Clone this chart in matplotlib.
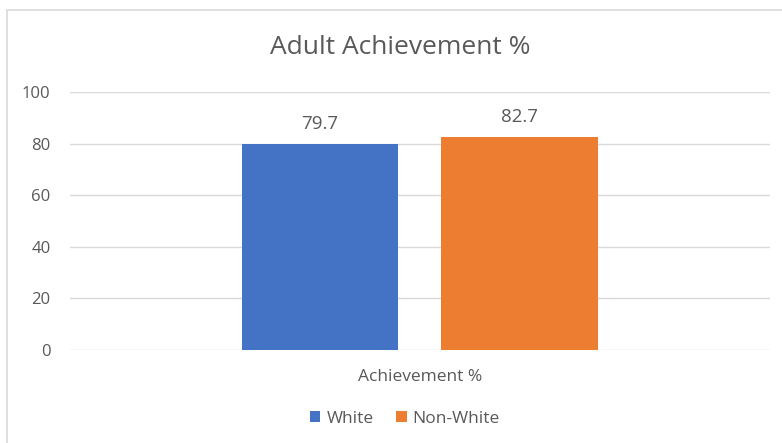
import matplotlib
matplotlib.use("Agg")
import matplotlib.pyplot as plt
from matplotlib.patches import Rectangle

categories = ["Achievement %"]
series_names = ["White", "Non-White"]
series_values = [[79.7], [82.7]]
colors = ["#4472C4", "#ED7D31"]
y_ticks = [0, 20, 40, 60, 80, 100]

plt.rcParams["font.family"] = ["Open Sans", "DejaVu Sans"]
text_color = "#595959"
grid_color = "#D9D9D9"

W, H = 782, 443
fig = plt.figure(figsize=(W / 100, H / 100), dpi=100)

# chart-area border
fig.patches.append(Rectangle((7 / W, -0.1), 1.2, (H - 10) / H + 0.1,
                             transform=fig.transFigure, fill=False,
                             edgecolor=grid_color, linewidth=1.2))

ax = fig.add_axes([70 / W, (H - 350) / H, 700 / W, 258 / H])
bar_w = 0.224
offsets = [-0.143, 0.142]
for name, vals, col, off in zip(series_names, series_values, colors, offsets):
    xs = [i + off for i in range(len(categories))]
    bars = ax.bar(xs, vals, width=bar_w, color=col, label=name, zorder=3)
    for b, v in zip(bars, vals):
        ax.annotate(f"{v:.1f}", (b.get_x() + b.get_width() / 2, v),
                    xytext=(0, 8), textcoords="offset points",
                    ha="center", va="bottom", fontsize=13.5, color=text_color)

ax.set_xlim(-0.5, len(categories) - 0.5)
ax.set_ylim(0, 100)
ax.set_yticks(y_ticks)
ax.set_xticks(range(len(categories)))
ax.set_xticklabels(categories)
ax.grid(axis="y", color=grid_color, linewidth=1, zorder=0)
for s in ax.spines.values():
    s.set_visible(False)
ax.tick_params(axis="both", length=0, labelsize=12, colors=text_color)
ax.tick_params(axis="y", pad=14)
ax.tick_params(axis="x", pad=14, labelsize=12.5)

fig.text(400 / W, (H - 48) / H, "Adult Achievement %", ha="center", va="center",
         fontsize=19, color=text_color)

leg = fig.legend(loc="center", bbox_to_anchor=(405 / W, (H - 419) / H), ncol=2,
                 frameon=False, fontsize=12.5, handlelength=0.6, handleheight=0.6,
                 handletextpad=0.35, columnspacing=1.3)
for t in leg.get_texts():
    t.set_color(text_color)

fig.savefig("out.png", dpi=100, facecolor="white")
